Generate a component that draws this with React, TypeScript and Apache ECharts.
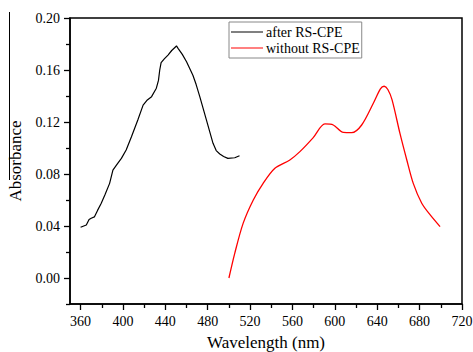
import React, { useEffect, useRef } from "react";
import * as echarts from "echarts";

const afterLabel = "after RS-CPE";
const withoutLabel = "without RS-CPE";

const afterWl = [360, 363, 365.4, 368, 370, 373, 376, 379.5, 383, 387.4, 390.5, 394, 398.5, 403, 408, 414, 419, 423, 427, 431.5, 433.5, 434.7, 436, 439, 442.5, 446, 450.5, 452, 456, 460, 466, 469, 472.5, 478.8, 485, 488, 491.4, 495, 499, 505.5, 510];
const afterAbs = [0.039, 0.04, 0.0408, 0.045, 0.046, 0.047, 0.052, 0.0575, 0.064, 0.0728, 0.083, 0.087, 0.092, 0.0985, 0.1087, 0.1215, 0.133, 0.137, 0.1395, 0.146, 0.152, 0.16, 0.1656, 0.1685, 0.1715, 0.175, 0.1785, 0.1767, 0.172, 0.1664, 0.156, 0.149, 0.1395, 0.1215, 0.1036, 0.098, 0.0954, 0.0935, 0.092, 0.0925, 0.094];

const withoutWl = [500, 505.5, 513.4, 523, 532.3, 543.4, 557.5, 567, 579.6, 590.6, 598.5, 608, 615.9, 625.3, 636.3, 643, 646.5, 650, 654, 661.5, 667.9, 674, 682, 690, 699.3];
const withoutAbs = [0.0, 0.019, 0.042, 0.06, 0.0728, 0.0844, 0.0908, 0.0972, 0.108, 0.1185, 0.1177, 0.112, 0.1118, 0.1177, 0.1344, 0.1455, 0.1475, 0.145, 0.137, 0.111, 0.0908, 0.0728, 0.0575, 0.0485, 0.0395];

const xMajor = [360, 400, 440, 480, 520, 560, 600, 640, 680, 720];
const xMinor = [380, 420, 460, 500, 540, 580, 620, 660, 700];
const yMajor = [0, 0.04, 0.08, 0.12, 0.16, 0.2];
const yMinor = [-0.02, 0.02, 0.06, 0.1, 0.14, 0.18];

const FONT = "'Times New Roman', 'Liberation Serif', serif";

const GRID = { left: 70, top: 18, right: 11, bottom: 48 };
const W = 473;
const H = 352;

export default function App() {
  const ref = useRef<HTMLDivElement>(null);
  useEffect(() => {
    const chart = echarts.init(ref.current!, null, { renderer: "svg" });
    const axisText = { color: "#000", fontFamily: FONT, fontSize: 14 };
    const gridW = W - GRID.left - GRID.right;
    const gridH = H - GRID.top - GRID.bottom;
    chart.setOption({
      animation: false,
      textStyle: { fontFamily: FONT },
      grid: { ...GRID, show: true, borderColor: "#000", borderWidth: 1.5, containLabel: false, outerBoundsMode: "none" },
      legend: {
        left: 229,
        top: 22,
        orient: "vertical",
        itemWidth: 32,
        itemHeight: 10,
        itemGap: 2,
        padding: [3, 2, 3, 2],
        borderColor: "#888",
        borderWidth: 1,
        borderRadius: 0,
        icon: "path://M0,5L32,5L32,6L0,6Z",
        textStyle: { color: "#000", fontFamily: FONT, fontSize: 14, padding: [0, 0, 0, -2] },
        data: [afterLabel, withoutLabel],
      },
      xAxis: [
        {
          type: "value",
          position: "bottom",
          min: 350,
          max: 720,
          name: "Wavelength (nm)",
          nameLocation: "middle",
          nameGap: 30,
          nameTextStyle: { color: "#000", fontFamily: FONT, fontSize: 17 },
          axisLine: { show: true, onZero: false, lineStyle: { color: "#000", width: 1.5 } },
          axisTick: { show: true, customValues: xMajor, length: 6, lineStyle: { color: "#000", width: 1.3 } },
          axisLabel: { customValues: xMajor, margin: 10, ...axisText },
          splitLine: { show: false },
        },
        {
          type: "value",
          position: "top",
          offset: -gridH,
          min: 350,
          max: 720,
          axisLine: { show: false, onZero: false },
          axisTick: { show: true, inside: true, customValues: xMinor, length: 4, lineStyle: { color: "#000", width: 1.3 } },
          axisLabel: { show: false },
          splitLine: { show: false },
        },
      ],
      yAxis: [
        {
          type: "value",
          position: "left",
          min: -0.02,
          max: 0.2,
          name: "Absorbance",
          nameLocation: "middle",
          nameGap: 46,
          nameTextStyle: { color: "#000", fontFamily: FONT, fontSize: 17 },
          axisLine: { show: true, onZero: false, lineStyle: { color: "#000", width: 1.5 } },
          axisTick: { show: true, customValues: yMajor, length: 6, lineStyle: { color: "#000", width: 1.3 } },
          axisLabel: { customValues: yMajor, margin: 10, formatter: (v: number) => v.toFixed(2), ...axisText },
          splitLine: { show: false },
        },
        {
          type: "value",
          position: "right",
          offset: -gridW,
          min: -0.02,
          max: 0.2,
          axisLine: { show: false, onZero: false },
          axisTick: { show: true, inside: true, customValues: yMinor, length: 4, lineStyle: { color: "#000", width: 1.3 } },
          axisLabel: { show: false },
          splitLine: { show: false },
        },
      ],
      graphic: [
        { type: "line", shape: { x1: 9.5, y1: 12, x2: 9.5, y2: 180 }, style: { stroke: "#000", lineWidth: 1 } },
      ],
      series: [
        {
          name: afterLabel,
          type: "line",
          data: afterWl.map((w, i) => [w, afterAbs[i]]),
          showSymbol: false,
          smooth: false,
          lineStyle: { color: "#000", width: 1.2 },
          itemStyle: { color: "#000" },
        },
        {
          name: withoutLabel,
          type: "line",
          data: withoutWl.map((w, i) => [w, withoutAbs[i]]),
          showSymbol: false,
          smooth: 0.3,
          lineStyle: { color: "#ff0000", width: 1.3 },
          itemStyle: { color: "#ff0000" },
        },
      ],
    });
    return () => chart.dispose();
  }, []);
  return <div ref={ref} style={{ width: W, height: H, position: "absolute", left: 0, top: 0, background: "#fff" }} />;
}
